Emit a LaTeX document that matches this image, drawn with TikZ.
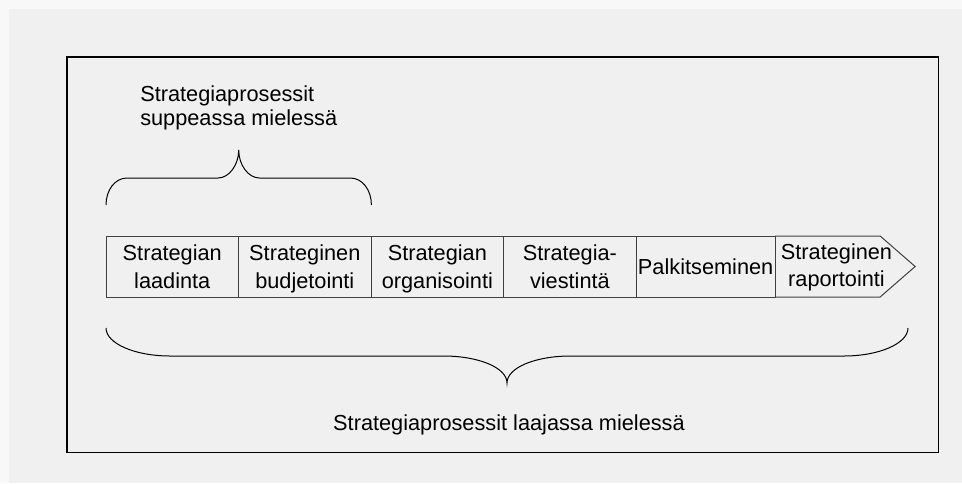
\documentclass[tikz,border=0pt]{standalone}
\usepackage{fontspec}
\setmainfont{Liberation Sans}
\definecolor{panel}{HTML}{F0F0F0}
\definecolor{margin}{HTML}{F8F8F8}
\definecolor{edge}{HTML}{404040}
% uniform line height inside the stage boxes
\newcommand\stagestrut{\rule[-3.5pt]{0pt}{19pt}}
\begin{document}
\begin{tikzpicture}[x=0.75pt,y=-0.75pt,
  stagefont/.style={font=\fontsize{16.3}{20.5}\selectfont},
  stage/.style={stagefont, draw=edge, line width=0.75pt, minimum height=45.75pt,
    inner sep=0pt, outer sep=0pt, anchor=west, align=center},
  brace/.style={draw=black, line width=0.75pt},
  caption/.style={font=\fontsize{16.3}{18}\selectfont, inner sep=0pt}]
\useasboundingbox (0,0) rectangle (962,483);
\fill[margin] (0,0) rectangle (962,483);
\fill[panel] (9,9) rectangle (962,483);
% outer frame
\draw[line width=0.8pt] (67,57) rectangle (938.5,452.5);

% process stages
\node[stage, minimum width=99.4pt]  (s1) at (106,266.5)
  {\stagestrut Strategian\\\stagestrut laadinta};
\node[stage, minimum width=99.4pt]  (s2) at (s1.east)
  {\stagestrut Strateginen\\\stagestrut budjetointi};
\node[stage, minimum width=99.4pt]  (s3) at (s2.east)
  {\stagestrut Strategian\\\stagestrut organisointi};
\node[stage, minimum width=99.4pt]  (s4) at (s3.east)
  {\stagestrut Strategia-\\\stagestrut viestintä};
\node[stage, minimum width=104.25pt] (s5) at (s4.east)
  {\stagestrut Palkitseminen};
\node[stagefont, align=center, inner sep=0pt] (s6) at (836.5,265)
  {\stagestrut Strateginen\\\stagestrut raportointi};
\draw[edge, line width=0.75pt, line join=miter]
  (s5.north east) -- ++(105,0) -- ++(35,30.5) -- ++(-35,30.5) -- (s5.south east);

% brace over the first two stages
\draw[brace] (106,205) .. controls (106,190) and (115,178) .. (127,178)
  -- (218,178) .. controls (229,178) and (238.7,165) .. (238.7,150)
  .. controls (238.7,165) and (248.4,178) .. (259.4,178)
  -- (350.4,178) .. controls (362.4,178) and (371.4,190) .. (371.4,205);

% brace under the whole chain
\draw[brace] (106,328) .. controls (106,343.4) and (134.8,356) .. (170,356)
  -- (443.5,356) .. controls (478.5,356) and (507,367.6) .. (507,383)
  .. controls (507,367.6) and (535.5,356) .. (570.5,356)
  -- (844,356) .. controls (879.2,356) and (908,343.4) .. (908,328);

\node[caption, anchor=west, align=left] (narrow) at (140,108) {Strategiaprosessit\\suppeassa mielessä};
\node[caption] (wide) at (509,425) {Strategiaprosessit laajassa mielessä};
\end{tikzpicture}
\end{document}
